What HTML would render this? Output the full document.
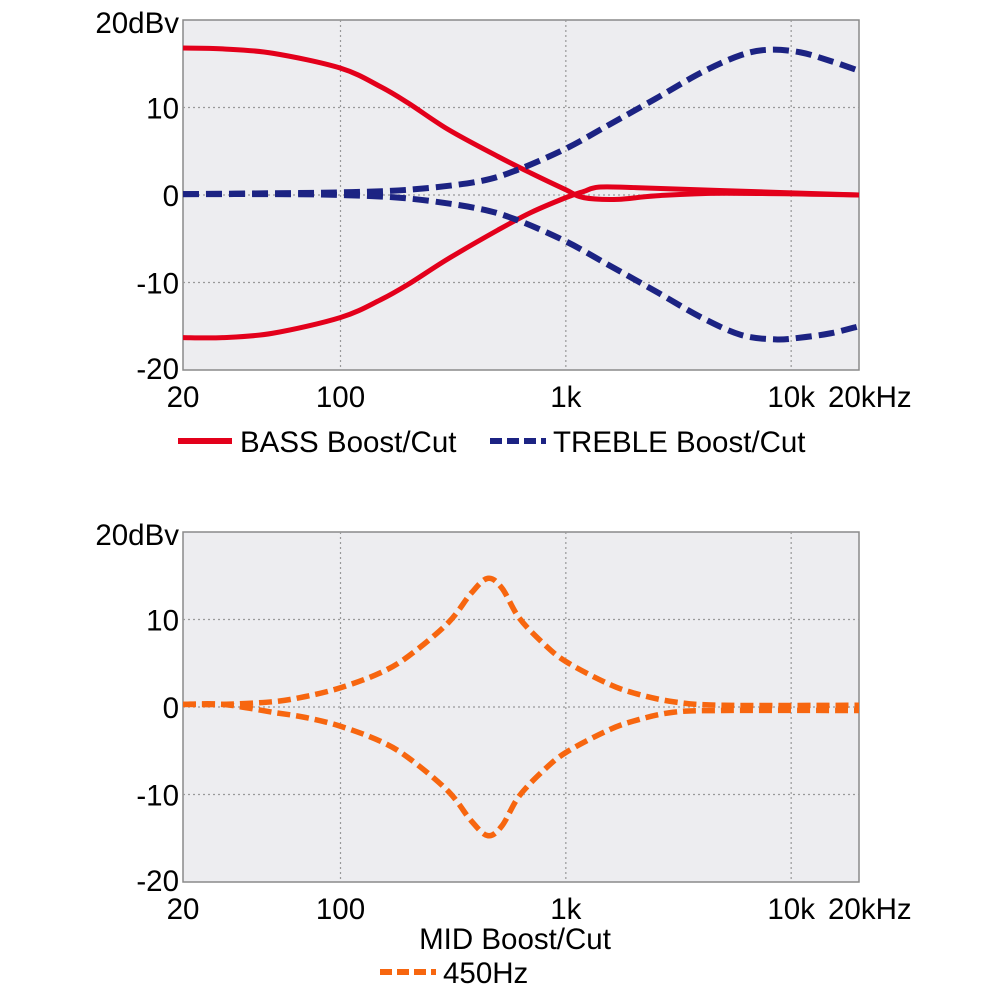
<!DOCTYPE html>
<html><head><meta charset="utf-8"><style>
body{margin:0;background:#fff}
svg{display:block}
text{font-family:"Liberation Sans",sans-serif;font-size:29.5px;fill:#000}
</style></head><body>
<svg id="s" width="1000" height="1000" xmlns="http://www.w3.org/2000/svg"></svg>
<script>
const S=document.getElementById('s');
const NS='http://www.w3.org/2000/svg';
function el(t,a,txt){const e=document.createElementNS(NS,t);for(const k in a)e.setAttribute(k,a[k]);if(txt!=null)e.textContent=txt;S.appendChild(e);return e;}
const X0=183,X1=859,DEC=(X1-X0)/3;
const fx=f=>X0+Math.log10(f/20)*DEC;
function panel(top){
  const bot=top+350,y=d=>top+175-d*8.75;
  el('rect',{x:X0,y:top,width:X1-X0,height:350,fill:'#ededf0',stroke:'#8a8a8a','stroke-width':1.5});
  [100,1000,10000].forEach(f=>el('line',{x1:fx(f),x2:fx(f),y1:top,y2:bot,stroke:'#999','stroke-width':1.2,'stroke-dasharray':'2,3'}));
  [10,0,-10].forEach(d=>el('line',{x1:X0,x2:X1,y1:y(d),y2:y(d),stroke:'#999','stroke-width':1.2,'stroke-dasharray':'2,3'}));
  el('text',{x:179,y:top+13,'text-anchor':'end'},'20dBv');
  el('text',{x:179,y:y(10)+11,'text-anchor':'end'},'10');
  el('text',{x:179,y:y(0)+11,'text-anchor':'end'},'0');
  el('text',{x:179,y:y(-10)+11,'text-anchor':'end'},'-10');
  el('text',{x:179,y:bot+9,'text-anchor':'end'},'-20');
  const by=bot+37;
  el('text',{x:X0,y:by,'text-anchor':'middle'},'20');
  el('text',{x:fx(100),y:by,'text-anchor':'middle'},'100');
  el('text',{x:fx(1000),y:by,'text-anchor':'middle'},'1k');
  el('text',{x:fx(10000),y:by,'text-anchor':'middle'},'10k');
  el('text',{x:828,y:by},'20kHz');
  return y;
}
function curve(pts,y,attrs){
  const P=pts.map(p=>[fx(p[0]),y(p[1])]);
  let d='M'+P[0][0]+','+P[0][1];
  for(let i=0;i<P.length-1;i++){
    const p0=P[Math.max(i-1,0)],p1=P[i],p2=P[i+1],p3=P[Math.min(i+2,P.length-1)];
    const c1=[p1[0]+(p2[0]-p0[0])/6,p1[1]+(p2[1]-p0[1])/6],c2=[p2[0]-(p3[0]-p1[0])/6,p2[1]-(p3[1]-p1[1])/6];
    d+=`C${c1[0]},${c1[1]} ${c2[0]},${c2[1]} ${p2[0]},${p2[1]}`;
  }
  el('path',Object.assign({d:d,fill:'none'},attrs));
}
const y1=panel(20);
const red={stroke:'#e3001b','stroke-width':5};
curve([[20,16.8],[30,16.7],[50,16.2],[100,14.5],[150,12.4],[200,10.5],[300,7.5],[500,4.4],[700,2.5],[1000,0.6],[1200,-0.3],[1700,-0.5],[2500,-0.1],[5000,0.2],[20000,0]],y1,red);
curve([[20,-16.3],[30,-16.3],[50,-15.8],[100,-14],[150,-12],[200,-10.2],[300,-7.3],[500,-4],[700,-2],[1000,-0.3],[1200,0.4],[1400,0.9],[2000,0.85],[5000,0.5],[20000,0]],y1,red);
const blue={stroke:'#1c2383','stroke-width':6,'stroke-dasharray':'16,7'};
curve([[20,0.1],[50,0.2],[100,0.3],[200,0.6],[400,1.5],[600,2.8],[1000,5.3],[1500,7.8],[2500,11],[4000,14],[6000,16],[8000,16.6],[11000,16.3],[15000,15.3],[20000,14.2]],y1,blue);
curve([[20,0.1],[50,0.1],[100,0],[200,-0.4],[400,-1.5],[600,-2.8],[1000,-5.3],[1500,-7.8],[2500,-11],[4000,-14],[6000,-16],[8500,-16.5],[11000,-16.3],[15000,-15.8],[20000,-15]],y1,blue);
el('line',{x1:178,x2:232,y1:441,y2:441,stroke:'#e3001b','stroke-width':6});
el('text',{x:240,y:452},'BASS Boost/Cut');
el('line',{x1:490,x2:546,y1:441,y2:441,stroke:'#1c2383','stroke-width':6,'stroke-dasharray':'12,5'});
el('text',{x:553,y:452},'TREBLE Boost/Cut');
const y2=panel(532);
const org={stroke:'#f7660f','stroke-width':5.5,'stroke-dasharray':'13,6'};
const mid=[[20,0.3],[30,0.3],[50,0.6],[70,1.2],[100,2.2],[150,3.9],[200,5.8],[300,9.6],[380,13],[450,14.7],[520,13.6],[620,10.2],[800,7.2],[1000,5.2],[1500,2.8],[2000,1.6],[3000,0.6],[5000,0.2],[20000,0.2]];
curve(mid,y2,org);
curve(mid.map(p=>[p[0],-p[1]+(p[0]<40?0.6:0)-(p[0]>4000?0.2:0)]),y2,org);
el('text',{x:515,y:949,'text-anchor':'middle'},'MID Boost/Cut');
el('line',{x1:380,x2:436,y1:972,y2:972,stroke:'#f7660f','stroke-width':6,'stroke-dasharray':'12,5'});
el('text',{x:443,y:983},'450Hz');
</script>
</body></html>
